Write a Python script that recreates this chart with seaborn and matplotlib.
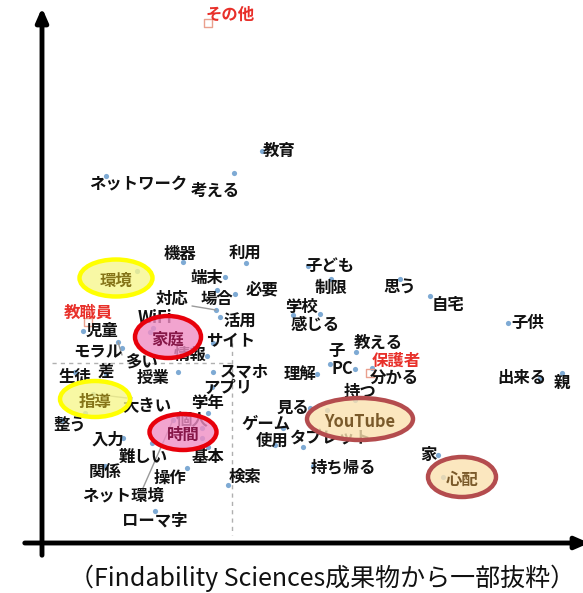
import numpy as np
import pandas as pd
import matplotlib
matplotlib.use('Agg')
import matplotlib.pyplot as plt
import seaborn as sns
from matplotlib.patches import Ellipse
from matplotlib.colors import to_rgba

# correspondence analysis: row points (words)
words = ['教育', 'ネットワーク', '考える', '子ども', '制限', '思う', '自宅', '学校', '感じる', '子供',
         '機器', '利用', '端末', '必要', '場合', '対応', '活用', 'WiFi', '児童', 'サイト',
         'モラル', '多い', '情報', '生徒', '差', '授業', 'スマホ', 'アプリ', '大きい', '学年',
         '整う', '入力', '個人', '難しい', 'ネット環境', '基本', '関係', '操作', '検索', 'ローマ字',
         'ゲーム', '使用', '見る', '理解', '子', 'PC', '教える', '分かる', '持つ', 'タブレット',
         '持ち帰る', '家', '出来る', '親', '時間', '家庭', '環境', '指導', 'YouTube', '心配']
dim1 = [0.30, -1.26, 0.02, 0.76, 0.99, 1.68, 1.98, 0.88, 0.61, 2.76,
        -0.49, 0.14, -0.07, 0.03, -0.15, -0.16, -0.12, -0.79, -1.49, -0.19,
        -1.10, -1.14, -0.25, -1.57, -1.26, -0.54, -0.19, -0.20, -1.39, -0.24,
        -1.70, -1.09, -0.30, -0.80, -0.59, -0.24, -1.27, -0.45, -0.04, -0.77,
        0.51, 0.43, 0.78, 0.85, 0.98, 1.23, 1.24, 1.40, 1.23, 0.71,
        0.81, 2.06, 3.08, 3.30, -0.30, -0.82, -0.95, -1.47, 0.95, 2.11]
dim2 = [2.12, 1.87, 1.90, 0.97, 0.84, 0.84, 0.67, 0.49, 0.48, 0.40,
        1.01, 1.00, 0.86, 0.69, 0.73, 0.53, 0.46, 0.35, 0.32, 0.20,
        0.15, 0.21, 0.07, -0.09, -0.11, -0.09, -0.09, -0.24, -0.31, -0.50,
        -0.57, -0.75, -0.65, -0.80, -0.57, -0.84, -1.03, -1.05, -1.22, -1.48,
        -0.65, -0.82, -0.45, -0.11, -0.01, -0.06, 0.11, -0.05, -0.37, -0.84,
        -1.03, -0.92, -0.15, -0.10, -0.75, 0.31, 0.92, -0.50, -0.47, -1.14]

# column points (respondent groups)
groups = ['その他', '教職員', '保護者']
grp_dim1 = [-0.24, -1.44, 1.38]
grp_dim2 = [3.40, 0.41, -0.10]

# label placement (offset from point, data units)
offsets = {
    '教育': (0.17, 0), 'ネットワーク': (0.32, -0.08), '考える': (-0.19, -0.18),
    '子ども': (0.22, 0), '制限': (0, -0.09), '思う': (0, -0.09), '自宅': (0.18, -0.09),
    '学校': (-0.18, 0.07), '感じる': (0.22, -0.10), '子供': (0.20, 0),
    '機器': (-0.03, 0.08), '利用': (-0.01, 0.09), '端末': (-0.18, -0.01), '必要': (0.27, 0.05),
    '場合': (0, -0.09), '対応': (-0.44, 0.11), '活用': (0.20, -0.05), 'WiFi': (0.02, 0.10),
    '児童': (0.19, 0), 'サイト': (0.18, 0.02), 'モラル': (-0.24, -0.04), '多い': (0.24, -0.20),
    '情報': (-0.17, 0.01), '生徒': (0, -0.05), '差': (0, 0.02), '授業': (-0.25, -0.06),
    'スマホ': (0.31, 0.01), 'アプリ': (0.16, -0.01), '大きい': (0.54, -0.11), '学年': (0, 0.10),
    '整う': (0.08, -0.05), '入力': (-0.15, -0.02), '個人': (-0.10, 0.08), '難しい': (-0.09, -0.14),
    'ネット環境': (-0.50, -0.75), '基本': (0, -0.10), '関係': (0, -0.06), '操作': (-0.17, -0.10),
    '検索': (0.17, 0.08), 'ローマ字': (0, -0.09), 'ゲーム': (-0.17, 0.04), '使用': (-0.03, 0.04),
    '見る': (-0.17, 0), '理解': (-0.17, 0), '子': (0.07, 0.13), 'PC': (-0.13, 0.0),
    '教える': (0.22, 0.09), '分かる': (0.22, -0.10), '持つ': (0.05, 0.08), 'タブレット': (0.27, 0.09),
    '持ち帰る': (0.30, -0.01), '家': (-0.10, 0), '出来る': (-0.18, 0), '親': (0, -0.10),
    '時間': (-0.19, 0.03), '家庭': (0.18, -0.08), '環境': (-0.21, -0.10), '指導': (0.10, 0.11),
    'YouTube': (0.33, -0.12), '心配': (0.19, -0.03),
    'その他': (0.22, 0.08), '教職員': (0, 0.09), '保護者': (0.26, 0.12),
}
leaders = ['対応', '多い', '大きい', 'ネット環境']

# highlighted words: ellipse width, height, style
highlight = {
    '環境': (0.73, 0.37, 'yellow'), '指導': (0.70, 0.36, 'yellow'),
    '家庭': (0.66, 0.42, 'red'), '時間': (0.67, 0.36, 'red'),
    'YouTube': (1.06, 0.42, 'brown'), '心配': (0.68, 0.40, 'brown'),
}
styles = {
    'yellow': ('#ffff00', '#f7f78e', '#857418'),
    'red': ('#e8000b', '#ef8dc4', '#861748'),
    'brown': ('#b44c4e', '#fbe2b0', '#7a5a2a'),
}

df = pd.DataFrame({'word': words, 'dim1': dim1, 'dim2': dim2})
dg = pd.DataFrame({'group': groups, 'dim1': grp_dim1, 'dim2': grp_dim2})

sns.set_style('white')
plt.rcParams['font.family'] = ['Noto Sans CJK JP', 'DejaVu Sans']

fig = plt.figure(figsize=(5.83, 5.93), dpi=100)
ax = fig.add_axes([0, 0, 1, 1])

# axes arrows
arrow = dict(arrowstyle='-|>,head_width=0.35,head_length=0.8', lw=3.5, color='black')
ax.annotate('', xy=(-1.90, 3.58), xytext=(-1.90, -1.95), arrowprops=arrow, annotation_clip=False)
ax.annotate('', xy=(3.60, -1.80), xytext=(-2.10, -1.80), arrowprops=arrow, annotation_clip=False)

# origin guide lines
ax.plot([-1.80, 0], [0, 0], ls=(0, (3, 3)), color='#b0b0b0', lw=1, zorder=1)
ax.plot([0, 0], [0.20, -1.72], ls=(0, (3, 3)), color='#b0b0b0', lw=1, zorder=1)

sns.scatterplot(data=df, x='dim1', y='dim2', color='#7eaad4', s=14, linewidth=0, ax=ax, zorder=2)
sns.scatterplot(data=dg, x='dim1', y='dim2', marker='s', s=30, facecolor='none',
                edgecolor='#eaa08e', linewidth=1, ax=ax, zorder=2)
ax.set_xlim(-2.32, 3.51)
ax.set_ylim(-2.30, 3.63)
ax.set_axis_off()

fs = 11.8
for _, r in df.iterrows():
    dx, dy = offsets[r.word]
    lx, ly = r.dim1 + dx, r.dim2 + dy
    if r.word in leaders:
        ax.plot([r.dim1, lx - np.sign(dx) * 0.2], [r.dim2, ly - np.sign(dy) * 0.07],
                color='#9a9a9a', lw=1, zorder=2)
    if r.word in highlight:
        w, h, st = highlight[r.word]
        edge, face, tc = styles[st]
        ax.add_patch(Ellipse((lx, ly + 0.03), w, h, facecolor=to_rgba(face, 0.8),
                             edgecolor=edge, lw=3.2, zorder=4))
        ax.text(lx, ly, r.word, ha='center', va='center', fontsize=fs, fontweight='bold',
                color=tc, zorder=5)
    else:
        ax.text(lx, ly, r.word, ha='center', va='center', fontsize=fs, fontweight='bold',
                color='#111111', zorder=3)

for _, r in dg.iterrows():
    dx, dy = offsets[r.group]
    ax.text(r.dim1 + dx, r.dim2 + dy, r.group, ha='center', va='center', fontsize=fs,
            fontweight='bold', color='#e8302a', zorder=3)

fig.text(0.553, 0.025, '（Findability Sciences成果物から一部抜粋）', ha='center', va='center',
         fontsize=18, color='#111111')

fig.savefig('out.png', dpi=100)
